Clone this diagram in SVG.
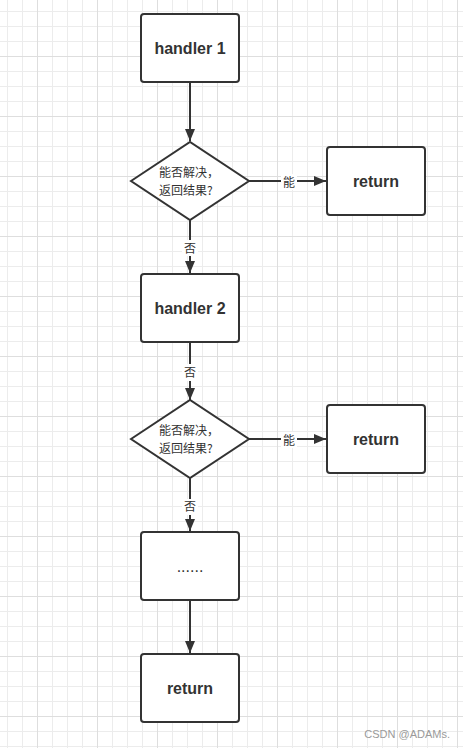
<svg xmlns="http://www.w3.org/2000/svg" width="463" height="748" viewBox="0 0 463 748">
  <style>
    .box { fill: #ffffff; stroke: #333333; stroke-width: 2; }
    .dia { fill: #ffffff; stroke: #333333; stroke-width: 2; stroke-linejoin: miter; }
    .lbl { font-family: "Liberation Sans", "Noto Sans CJK SC", sans-serif; font-size: 16px; font-weight: bold; fill: #333333; text-anchor: middle; }
    .cjk { font-family: "Noto Sans CJK SC", "Liberation Sans", sans-serif; font-size: 12px; fill: #333333; }
    .edge { stroke: #333333; stroke-width: 2; fill: none; }
    .elbl { font-family: "Noto Sans CJK SC", "Liberation Sans", sans-serif; font-size: 12px; fill: #333333; text-anchor: middle; }
    .wm { font-family: "Liberation Sans", sans-serif; font-size: 11px; fill: #9a9a9a; text-anchor: end; }
  </style>
  <defs>
    <pattern id="minor" patternUnits="userSpaceOnUse" x="7" y="11" width="15" height="15">
      <path d="M0.5 0 V15 M0 0.5 H15" stroke="#ececec" stroke-width="1" fill="none"/>
    </pattern>
    <pattern id="major" patternUnits="userSpaceOnUse" x="37" y="56" width="60" height="60">
      <path d="M0.5 0 V60 M0 0.5 H60" stroke="#dedede" stroke-width="1" fill="none"/>
    </pattern>
    <marker id="arr" viewBox="0 0 12 10" refX="12" refY="5" markerWidth="12" markerHeight="10" markerUnits="userSpaceOnUse" orient="auto">
      <path d="M0 0 L12 5 L0 10 Z" fill="#333333"/>
    </marker>
  </defs>

  <rect x="0" y="0" width="463" height="748" fill="#ffffff"/>
  <rect x="0" y="0" width="463" height="748" fill="url(#minor)"/>
  <rect x="0" y="0" width="463" height="748" fill="url(#major)"/>

  <g id="connectors">
    <path class="edge" d="M190 82 V141" marker-end="url(#arr)"/>
    <path class="edge" d="M249 181 H326" marker-end="url(#arr)"/>
    <path class="edge" d="M190 220 V273" marker-end="url(#arr)"/>
    <path class="edge" d="M190 342 V400" marker-end="url(#arr)"/>
    <path class="edge" d="M249 439 H326" marker-end="url(#arr)"/>
    <path class="edge" d="M190 478 V531" marker-end="url(#arr)"/>
    <path class="edge" d="M190 600 V653" marker-end="url(#arr)"/>
    <g id="edge-labels">
      <rect x="281" y="174" width="16" height="16" fill="#ffffff"/>
      <text class="elbl" x="289" y="187">能</text>
      <rect x="182" y="240" width="16" height="16" fill="#ffffff"/>
      <text class="elbl" x="190" y="253">否</text>
      <rect x="182" y="364" width="16" height="17" fill="#ffffff"/>
      <text class="elbl" x="190" y="377">否</text>
      <rect x="281" y="432" width="16" height="16" fill="#ffffff"/>
      <text class="elbl" x="289" y="445">能</text>
      <rect x="182" y="499" width="16" height="16" fill="#ffffff"/>
      <text class="elbl" x="190" y="511">否</text>
    </g>
  </g>

  <g id="handler1">
    <rect class="box" x="141" y="14" width="98" height="68" rx="3"/>
    <text class="lbl" x="190" y="54">handler 1</text>
  </g>
  <g id="decision1">
    <polygon class="dia" points="131,181 190,142 249,181 190,220"/>
    <text class="cjk" x="159" y="177">能否解决，</text>
    <text class="cjk" x="159" y="195">返回结果?</text>
  </g>
  <g id="return1">
    <rect class="box" x="327" y="147" width="98" height="68" rx="3"/>
    <text class="lbl" x="376" y="187">return</text>
  </g>
  <g id="handler2">
    <rect class="box" x="141" y="274" width="98" height="68" rx="3"/>
    <text class="lbl" x="190" y="314">handler 2</text>
  </g>
  <g id="decision2">
    <polygon class="dia" points="131,439 190,400 249,439 190,478"/>
    <text class="cjk" x="159" y="435">能否解决，</text>
    <text class="cjk" x="159" y="453">返回结果?</text>
  </g>
  <g id="return2">
    <rect class="box" x="327" y="405" width="98" height="68" rx="3"/>
    <text class="lbl" x="376" y="445">return</text>
  </g>
  <g id="more">
    <rect class="box" x="141" y="532" width="98" height="68" rx="3"/>
    <text class="lbl" x="190" y="572" style="font-weight:normal">......</text>
  </g>
  <g id="return3">
    <rect class="box" x="141" y="654" width="98" height="68" rx="3"/>
    <text class="lbl" x="190" y="694">return</text>
  </g>

  <text class="wm" x="450" y="738">CSDN @ADAMs.</text>
</svg>
